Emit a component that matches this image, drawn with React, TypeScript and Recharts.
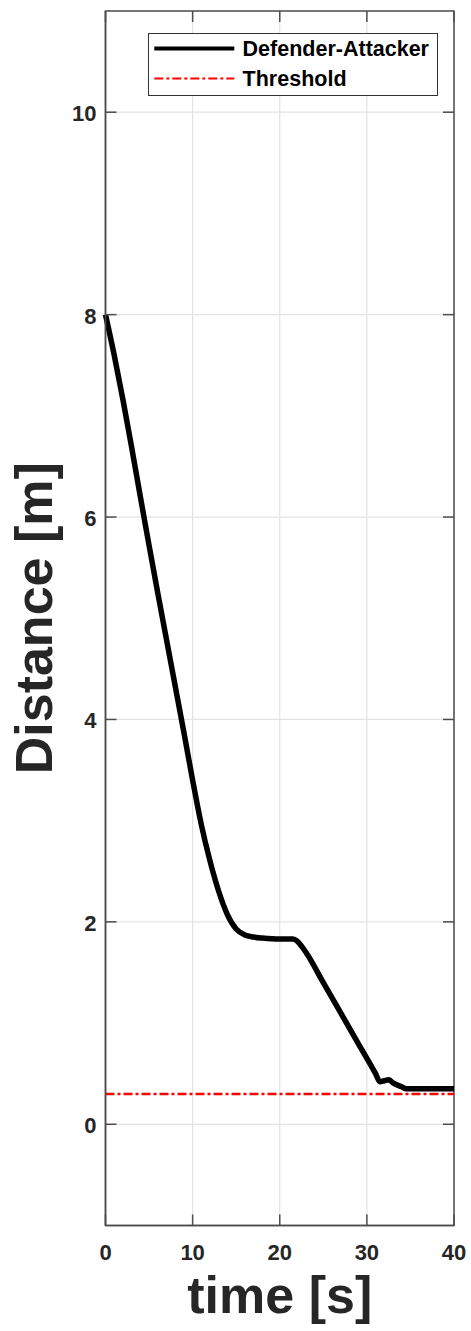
import React from "react";
import { LineChart, Line, XAxis, YAxis, CartesianGrid, ReferenceLine, ReferenceArea, Label } from "recharts";

const timeValues = [0, 1, 2, 3, 4, 5, 6, 7, 8, 9, 10, 11, 12, 13, 14, 15, 16, 17, 18, 20, 21.5, 22, 22.5, 23, 25, 27, 29, 31, 31.5, 32, 32.5, 33, 34, 34.5, 40];
const distanceValues = [8.0, 7.6, 7.16, 6.69, 6.2, 5.72, 5.25, 4.79, 4.33, 3.87, 3.4, 2.96, 2.6, 2.3, 2.07, 1.93, 1.87, 1.85, 1.84, 1.83, 1.83, 1.81, 1.76, 1.7, 1.4, 1.1, 0.8, 0.5, 0.42, 0.43, 0.44, 0.41, 0.37, 0.35, 0.35];
const thresholdValue = 0.3;
const xTicks = [0, 10, 20, 30, 40];
const yTicks = [0, 2, 4, 6, 8, 10];
const legendItems = [
  { label: "Defender-Attacker", color: "#000000", dash: "", width: 4 },
  { label: "Threshold", color: "#ff0000", dash: "9 3 3 3", width: 2 },
];

const data = timeValues.map((t, i) => ({ t, d: distanceValues[i] }));

const FONT = "'Liberation Sans', Arial, Helvetica, sans-serif";
const TEXT = "#262626";
const AXIS = "#4d4d4d";
const PLOT_W = 348.5;
const PLOT_H = 1214.5;
const TICK_LEN = 11;

const XTick = (props: any) => {
  const { x, y, payload } = props;
  return (
    <g>
      <line x1={x} x2={x} y1={y} y2={y - TICK_LEN} stroke={AXIS} strokeWidth={1.5} />
      <line x1={x} x2={x} y1={y - PLOT_H} y2={y - PLOT_H + TICK_LEN} stroke={AXIS} strokeWidth={1.5} />
      <text x={x} y={y + 34.5} textAnchor="middle" fontFamily={FONT} fontWeight="bold" fontSize={22} fill={TEXT}>
        {payload.value}
      </text>
    </g>
  );
};

const YTick = (props: any) => {
  const { x, y, payload } = props;
  const ax = x + 9;
  return (
    <g>
      <line x1={ax} x2={ax + TICK_LEN} y1={y} y2={y} stroke={AXIS} strokeWidth={1.5} />
      <line x1={ax + PLOT_W - TICK_LEN} x2={ax + PLOT_W} y1={y} y2={y} stroke={AXIS} strokeWidth={1.5} />
      <text x={x} y={y + 9} textAnchor="end" fontFamily={FONT} fontWeight="bold" fontSize={22} fill={TEXT}>
        {payload.value}
      </text>
    </g>
  );
};

const YLabel = (props: any) => {
  const vb = props.viewBox;
  const cx = vb.x + 52;
  const cy = vb.y + vb.height / 2;
  return (
    <text x={cx} y={cy} transform={`rotate(-90, ${cx}, ${cy})`} textAnchor="middle" fontFamily={FONT} fontWeight="bold" fontSize={52} fill={TEXT}>
      Distance [m]
    </text>
  );
};

const XLabel = (props: any) => {
  const vb = props.viewBox;
  return (
    <text x={vb.x + vb.width / 2} y={vb.y + 87.5} textAnchor="middle" fontFamily={FONT} fontWeight="bold" fontSize={52} fill={TEXT}>
      time [s]
    </text>
  );
};

export default function App() {
  return (
    <div style={{ position: "absolute", left: 0, top: 0, width: 471, height: 1331, background: "#fff" }}>
      <LineChart width={471} height={1331} data={data} margin={{ top: 11, right: 17, bottom: 0, left: 0 }}>
        <CartesianGrid stroke="#e3e3e3" strokeWidth={1.2} />
        <XAxis
          dataKey="t"
          type="number"
          domain={[0, 40]}
          ticks={xTicks}
          interval={0}
          height={105.5}
          tickSize={0}
          tickMargin={0}
          tickLine={false}
          axisLine={{ stroke: AXIS, strokeWidth: 1.5 }}
          tick={<XTick />}
        >
          <Label content={<XLabel />} />
        </XAxis>
        <YAxis
          type="number"
          domain={[-1, 11]}
          ticks={yTicks}
          interval={0}
          allowDataOverflow
          width={105.5}
          tickSize={0}
          tickMargin={9}
          tickLine={false}
          axisLine={{ stroke: AXIS, strokeWidth: 1.5 }}
          tick={<YTick />}
        >
          <Label content={<YLabel />} />
        </YAxis>
        <ReferenceArea x1={0} x2={40} y1={-1} y2={11} fill="none" stroke={AXIS} strokeWidth={1.5} fillOpacity={0} />
        <ReferenceLine y={thresholdValue} stroke="#ff0000" strokeWidth={2.4} strokeDasharray="9 3 3 3" />
        <Line type="monotone" dataKey="d" stroke="#000000" strokeWidth={5.5} dot={false} isAnimationActive={false} />
      </LineChart>
      <div
        style={{
          position: "absolute",
          left: 147.7,
          top: 32.7,
          width: 290,
          height: 63.3,
          boxSizing: "border-box",
          border: "1.3px solid #333",
          background: "#fff",
        }}
      >
        <svg width={290} height={63} style={{ position: "absolute", left: -1.3, top: -1.3 }}>
          {legendItems.map((item, i) => {
            const cy = 16.6 + i * 30;
            return (
              <g key={item.label}>
                <line x1={7.3} x2={87.3} y1={cy} y2={cy} stroke={item.color} strokeWidth={item.width} strokeDasharray={item.dash || undefined} />
                <text x={95.6} y={cy + 7.6} fontFamily={FONT} fontWeight="bold" fontSize={21.5} fill="#000">
                  {item.label}
                </text>
              </g>
            );
          })}
        </svg>
      </div>
    </div>
  );
}
